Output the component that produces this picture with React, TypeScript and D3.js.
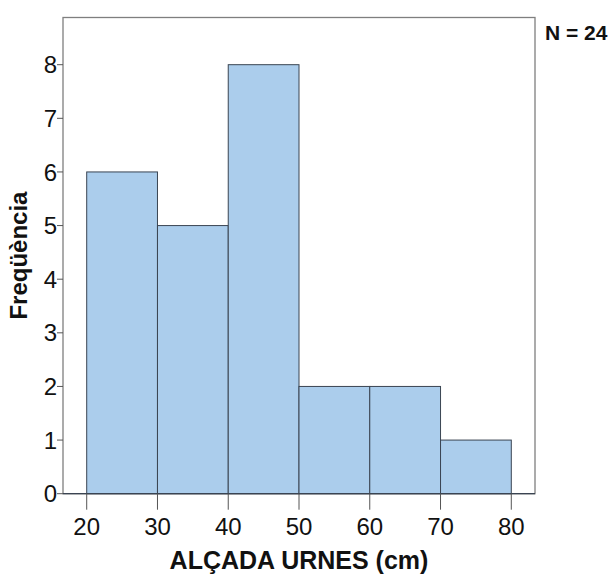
import React from 'react';
import * as d3 from 'd3';

const binStarts = [20, 30, 40, 50, 60, 70];
const binEnds = [30, 40, 50, 60, 70, 80];
const counts = [6, 5, 8, 2, 2, 1];
const xTicks = [20, 30, 40, 50, 60, 70, 80];
const yTicks = [0, 1, 2, 3, 4, 5, 6, 7, 8];

const left = 63;
const right = 535;
const top = 17.5;
const bottom = 493.7;

const App: React.FC = () => {
    const x = d3.scaleLinear().domain([16.65, 83.35]).range([left, right]);
    const y = d3.scaleLinear().domain([0, 8.88]).range([bottom, top]);
    const font = '"Liberation Sans", Arial, sans-serif';

    return (
        <svg width={611} height={576} style={{position: 'absolute', left: 0, top: 0}}>
            <rect x={0} y={0} width={611} height={576} fill="#fff" />
            {/* plot frame */}
            <rect x={left} y={top} width={right - left} height={bottom - top} fill="none" stroke="#7f7f7f" strokeWidth={1.3} />
            {counts.map((c, i) => (
                <rect key={i}
                      x={x(binStarts[i])}
                      y={y(c)}
                      width={x(binEnds[i]) - x(binStarts[i])}
                      height={bottom - y(c)}
                      fill="#abcdec"
                      stroke="#3a4452"
                      strokeWidth={1} />
            ))}
            <line x1={left} x2={right} y1={bottom} y2={bottom} stroke="#3a4452" strokeWidth={1.2} />
            {yTicks.map((t) => (
                <g key={t} transform={`translate(0,${y(t)})`}>
                    <line x1={left - 6} x2={left} stroke="#555" strokeWidth={1} />
                    <text x={left - 6} dy="0.36em" textAnchor="end" fontFamily={font} fontSize={24} fill="#111">{t}</text>
                </g>
            ))}
            {xTicks.map((t) => (
                <g key={t} transform={`translate(${x(t)},0)`}>
                    <line y1={bottom} y2={bottom + 16} stroke="#555" strokeWidth={1} />
                    <text y={535} textAnchor="middle" fontFamily={font} fontSize={24} fill="#111">{t}</text>
                </g>
            ))}
            <text x={(left + right) / 2} y={569} textAnchor="middle" fontFamily={font} fontSize={25} fontWeight="bold" fill="#111">ALÇADA URNES (cm)</text>
            <text transform={`translate(27,${(top + bottom) / 2}) rotate(-90)`} textAnchor="middle" fontFamily={font} fontSize={24} fontWeight="bold" fill="#111">Freqüència</text>
            <text x={545} y={40} fontFamily={font} fontSize={21} fontWeight="bold" fill="#111">N = 24</text>
        </svg>
    );
};

export default App;
